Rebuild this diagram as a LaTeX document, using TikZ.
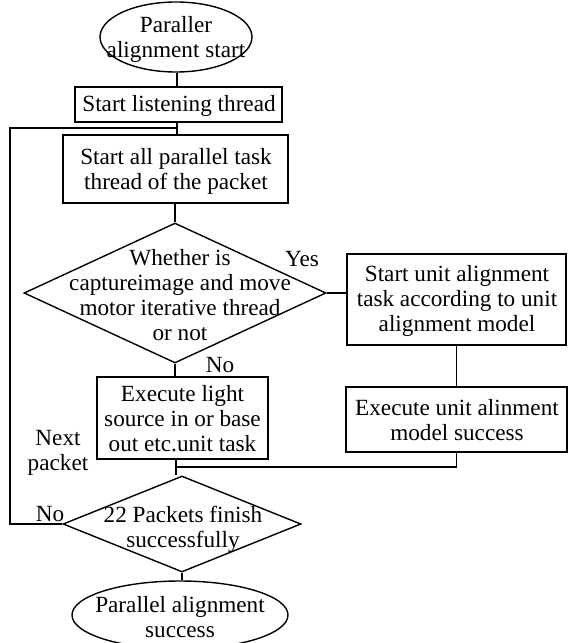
\documentclass[tikz,border=0pt]{standalone}
\usepackage{fontspec}
\setmainfont{Liberation Serif}
\usetikzlibrary{shapes.geometric}
\begin{document}
\begin{tikzpicture}[x=1pt,y=-1pt,line width=1.4pt,
  every node/.style={font=\fontsize{23.2}{25}\selectfont},
  boxn/.style={draw,rectangle,inner sep=0pt},
  ellipsen/.style={draw,ellipse,inner sep=0pt},
  diamondn/.style={draw,diamond,inner sep=0pt},
  txt/.style={align=center,inner sep=0pt},
  lbl/.style={inner sep=0pt,align=center}]
\useasboundingbox (0,0) rectangle (568,643);
% shapes
\node[ellipsen,minimum width=152pt,minimum height=70pt] (e1) at (176,37) {};
\node[txt] (e1t) at (176,39) {Paraller\\alignment start};
\node[boxn,minimum width=207pt,minimum height=35pt] (b1) at (178.5,104.5) {};
\node[txt] (b1t) at (179,106) {Start listening thread};
\node[boxn,minimum width=225pt,minimum height=68pt] (b2) at (175.5,169) {};
\node[txt] (b2t) at (176,171) {Start all parallel task\\thread of the packet};
\node[diamondn,minimum width=302pt,minimum height=140pt] (d1) at (175,293) {};
\node[txt] (d1t) at (180,295) {Whether is\\captureimage and move\\motor iterative thread\\or not};
\node[boxn,minimum width=171pt,minimum height=82pt] (b3) at (182.5,418) {};
\node[txt] (b3t) at (182.5,419) {Execute light\\source in or base\\out etc.unit task};
\node[diamondn,minimum width=238pt,minimum height=96pt] (d2) at (182,524) {};
\node[txt] (d2t) at (183,529) {22 Packets finish\\successfully};
\node[ellipsen,minimum width=216pt,minimum height=68pt] (e2) at (180,615) {};
\node[txt] (e2t) at (180,617) {Parallel alignment\\success};
\node[boxn,minimum width=219pt,minimum height=91pt] (b4) at (456.5,299.5) {};
\node[txt] (b4t) at (457,300.5) {Start unit alignment\\task according to unit\\alignment model};
\node[boxn,minimum width=221pt,minimum height=65pt] (b5) at (456.5,419.5) {};
\node[txt] (b5t) at (457,420) {Execute unit alinment\\model success};
% labels
\node[lbl] (yes) at (302,259) {Yes};
\node[lbl] (no1) at (220,365) {No};
\node[lbl] (np) at (58,453) {Next\\packet};
\node[lbl] (no2) at (50,514) {No};
% helper coordinates
\coordinate (jtop) at (177,128);
\coordinate (loopx) at (10,0);
\coordinate (jn) at (176,467);
% connectors
\draw (e1.south -| jtop) -- (b1.north -| jtop);
\draw (b1.south -| jtop) -- (b2.north -| jtop);
\draw (b2.south -| d1.north) -- (d1.north);
\draw (d1.east) -- (d1.east -| b4.west);
\draw (d1.south) -- (d1.south |- b3.north);
\draw (b4.south) -- (b4.south |- b5.north);
\draw (b5.south) -- (b5.south |- jn) -- (jn);
\draw (b3.south -| jn) -- (jn) -- (d2.north -| jn);
\draw (d2.west) -- (d2.west -| loopx) -- (loopx |- jtop) -- (jtop);
\draw (d2.south) -- (d2.south |- e2.north);
\end{tikzpicture}
\end{document}
